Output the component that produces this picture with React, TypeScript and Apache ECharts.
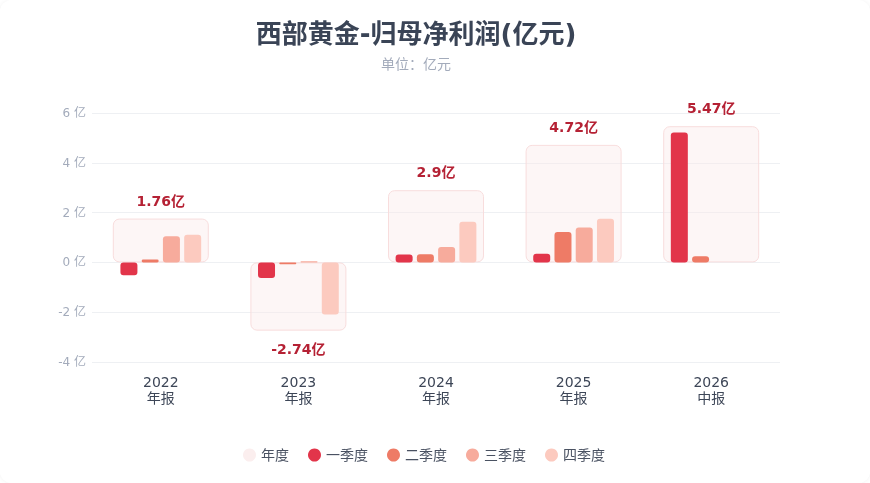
import React, { useEffect, useRef } from "react";
import * as echarts from "echarts";

const years = ["2022", "2023", "2024", "2025", "2026"];
const reportTypes = ["年报", "年报", "年报", "年报", "中报"];
const annualValues = [1.76, -2.74, 2.9, 4.72, 5.47];
const q1Values = [-0.52, -0.63, 0.32, 0.35, 5.22];
const q2Values = [0.12, -0.07, 0.33, 1.22, 0.25];
const q3Values = [1.05, 0.05, 0.62, 1.4, null];
const q4Values = [1.11, -2.09, 1.63, 1.75, null];
const quarterNames = ["一季度", "二季度", "三季度", "四季度"];
const quarterColors = ["#e2354a", "#ee7b66", "#f7ab9c", "#fccabf"];
const yTicks = { min: -4, max: 6, interval: 2 };

const FONT = "DejaVu Sans, 'Noto Sans CJK SC', sans-serif";

const App: React.FC = () => {
  const chartRef = useRef<HTMLDivElement>(null);

  useEffect(() => {
    const chart = echarts.init(chartRef.current!, undefined, { renderer: "svg" });

    const categories = years.map((y, i) => `${y}\n${reportTypes[i]}`);
    const quarterData = [q1Values, q2Values, q3Values, q4Values];

    const options = {
      animation: false,
      backgroundColor: "#ffffff",
      textStyle: { fontFamily: FONT },
      title: {
        text: "西部黄金-归母净利润(亿元)",
        subtext: "单位：亿元",
        left: 411,
        top: 16,
        textAlign: "center",
        itemGap: 10,
        textStyle: {
          fontSize: 26,
          fontWeight: "bold",
          color: "#3a4456",
          fontFamily: FONT,
        },
        subtextStyle: {
          fontSize: 14,
          color: "#a3abbb",
          fontFamily: FONT,
        },
      },
      legend: {
        bottom: 16,
        left: 238,
        itemWidth: 13,
        itemHeight: 13,
        itemGap: 19,
        icon: "circle",
        textStyle: { fontSize: 14, color: "#4a5262", fontFamily: FONT },
        data: [
          { name: "年度", itemStyle: { color: "#fbeeee", borderWidth: 0 } },
          ...quarterNames,
        ],
      },
      grid: {
        left: 92,
        right: 90,
        top: 113,
        bottom: 121,
      },
      xAxis: [
        {
          type: "category",
          data: categories,
          axisLine: { show: false },
          axisTick: { show: false },
          axisLabel: {
            fontSize: 14,
            color: "#3d4657",
            lineHeight: 16,
            margin: 12,
            fontFamily: FONT,
          },
        },
        {
          type: "category",
          data: categories,
          show: false,
        },
      ],
      yAxis: {
        type: "value",
        min: yTicks.min,
        max: yTicks.max,
        interval: yTicks.interval,
        axisLine: { show: false },
        axisTick: { show: false },
        splitLine: { lineStyle: { color: "#eef0f3", width: 1 } },
        axisLabel: {
          fontSize: 12,
          color: "#a3abbb",
          margin: 6,
          formatter: (v: number) => `${v} 亿`,
        },
      },
      series: [
        {
          name: "年度",
          type: "bar",
          xAxisIndex: 0,
          barWidth: 96,
          z: 1,
          itemStyle: {
            color: "rgba(250, 232, 232, 0.4)",
            borderColor: "#f8dddd",
            borderWidth: 1,
            borderRadius: 6,
          },
          data: annualValues.map((v) => ({
            value: v,
            label: {
              show: true,
              position: v >= 0 ? "top" : "bottom",
              distance: 11,
              formatter: `${v}亿`,
              fontSize: 14,
              fontWeight: "bold",
              color: "#b52134",
              fontFamily: FONT,
            },
          })),
        },
        ...quarterNames.map((name, qi) => ({
          name,
          type: "bar",
          xAxisIndex: 1,
          barWidth: 17,
          barGap: "25%",
          z: 3,
          itemStyle: {
            color: quarterColors[qi],
            borderRadius: 3,
          },
          data: quarterData[qi],
        })),
      ],
    };

    chart.setOption(options);

    return () => {
      chart.dispose();
    };
  }, []);

  return (
    <div
      style={{
        position: "fixed",
        inset: 0,
        borderRadius: 12,
        overflow: "hidden",
        boxShadow: "0 0 4px rgba(0,0,0,0.06)",
        background: "#fff",
      }}
    >
      <div ref={chartRef} style={{ width: 870, height: 483 }}></div>
    </div>
  );
};

export default App;
